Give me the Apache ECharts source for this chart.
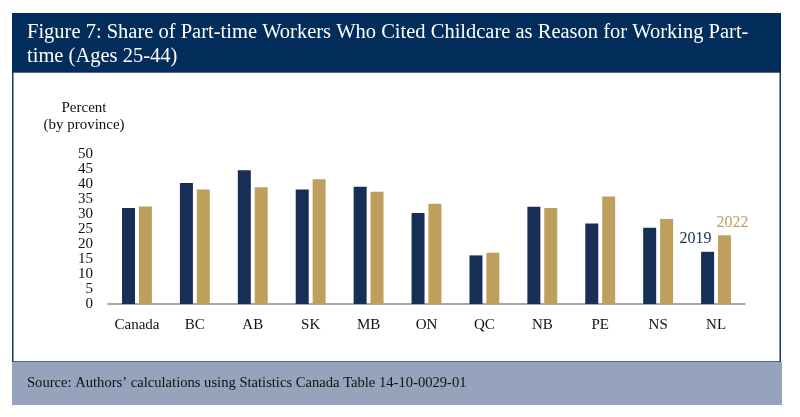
<!DOCTYPE html>
<html>
<head>
<meta charset="utf-8">
<script src="https://cdn.jsdelivr.net/npm/echarts@6/dist/echarts.min.js"></script>
<style>
html,body{margin:0;padding:0;background:#fff;}
#chart{width:800px;height:417px;}
</style>
</head>
<body>
<div id="chart"></div>
<script>
const categories = ['Canada','BC','AB','SK','MB','ON','QC','NB','PE','NS','NL'];
const values2019 = [32, 40.3, 44.6, 38.2, 39.1, 30.3, 16.2, 32.4, 26.8, 25.4, 17.4];
const values2022 = [32.5, 38.2, 38.9, 41.6, 37.4, 33.4, 17.1, 32, 35.8, 28.3, 22.9];
const seriesNames = ['2019','2022'];
const yTicks = [0,5,10,15,20,25,30,35,40,45,50];

const NAVY = '#172E55';
const GOLD = '#BE9F5D';
const SERIF = '"Liberation Serif", "DejaVu Serif", serif';

function withEndLabel(arr, color, offset) {
  return arr.map((v, i) => i === arr.length - 1 ? {
    value: v,
    label: {
      show: true, position: 'top', distance: 5, offset: offset,
      formatter: seriesNames[color === NAVY ? 0 : 1],
      color: color, fontFamily: SERIF, fontSize: 16
    }
  } : v);
}

const chart = echarts.init(document.getElementById('chart'), null, {renderer: 'canvas'});
chart.setOption({
  animation: false,
  backgroundColor: '#fff',
  textStyle: {fontFamily: SERIF},
  graphic: [
    {type: 'rect', z: -10, shape: {x: 12.75, y: 72, width: 767.5, height: 290},
     style: {fill: '#fff', stroke: '#1d3560', lineWidth: 1.5}},
    {type: 'rect', z: -9, shape: {x: 12, y: 13, width: 769, height: 59},
     style: {fill: '#022D5A'}},
    {type: 'rect', z: -9, shape: {x: 12, y: 362, width: 770, height: 43},
     style: {fill: '#95A3BD'}},
    {type: 'text', x: 27, y: 21, z: 10,
     style: {text: 'Figure 7: Share of Part-time Workers Who Cited Childcare as Reason for Working Part-\ntime (Ages 25-44)',
             fill: '#fff', font: '20.5px ' + SERIF, lineHeight: 24, verticalAlign: 'top'}},
    {type: 'text', x: 27, y: 383, z: 10,
     style: {text: 'Source: Authors\u2019 calculations using Statistics Canada Table 14-10-0029-01',
             fill: '#111', font: '14.6px ' + SERIF, verticalAlign: 'middle'}},
    {type: 'text', x: 84, y: 116.5, z: 10,
     style: {text: 'Percent\n(by province)', fill: '#111', font: '15px ' + SERIF,
             lineHeight: 17, align: 'center', verticalAlign: 'middle'}}
  ],
  grid: {left: 108, right: 55, top: 154, bottom: 113, containLabel: false},
  xAxis: {
    type: 'category', data: categories,
    axisLine: {lineStyle: {color: '#8a8a8a', width: 1.5}},
    axisTick: {show: false},
    axisLabel: {color: '#111', fontSize: 15, fontFamily: SERIF, margin: 14, interval: 0}
  },
  yAxis: {
    type: 'value', min: yTicks[0], max: yTicks[yTicks.length - 1], interval: 5,
    axisLine: {show: false}, axisTick: {show: false}, splitLine: {show: false},
    axisLabel: {color: '#111', fontSize: 15, fontFamily: SERIF, margin: 15}
  },
  series: [
    {name: seriesNames[0], type: 'bar', data: withEndLabel(values2019, NAVY, [-12, 0]),
     barWidth: 13, barGap: '30%', itemStyle: {color: NAVY}},
    {name: seriesNames[1], type: 'bar', data: withEndLabel(values2022, GOLD, [8, 0]),
     barWidth: 13, itemStyle: {color: GOLD}}
  ]
});
</script>
</body>
</html>
